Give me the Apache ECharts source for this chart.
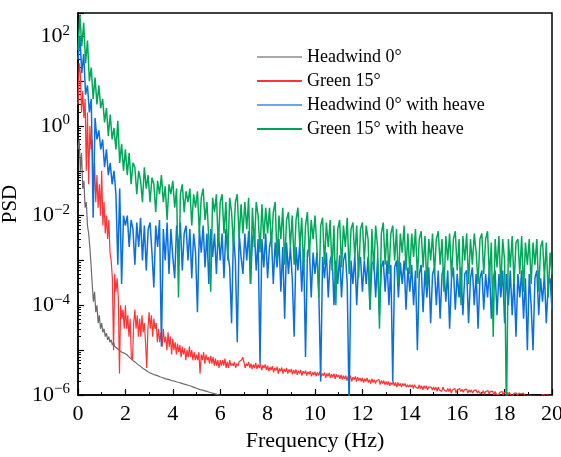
<!DOCTYPE html>
<html>
<head>
<meta charset="utf-8">
<script src="https://cdn.jsdelivr.net/npm/echarts/dist/echarts.min.js"></script>
<style>
html,body{margin:0;padding:0;background:#fff;}
#chart{width:561px;height:457px;}
</style>
</head>
<body>
<div id="chart"></div>
<script>
// Frequency resolution of the PSD estimates (Hz); each series starts at 0 Hz.
const FINE_STEP = 0.05;   // Headwind 0°, Green 15°
const HEAVE_STEP = 0.08;  // the two "with heave" cases

const seriesNames = ['Headwind 0°', 'Green 15°', 'Headwind 0° with heave', 'Green 15° with heave'];

// Headwind 0° (0 - 7 Hz, step 0.05)
const headwindPsd = [
0.3,0.5,0.1,0.25,0.04,0.06,0.015,0.02,0.006,0.004,0.002,8e-4,3e-4,1.2e-4,2e-4,7e-5,1e-4,4e-5,6e-5,3e-5,4e-5,
2.5e-5,3e-5,2e-5,2.4e-5,1.7e-5,2e-5,1.5e-5,1.7e-5,1.3e-5,1.5e-5,1.2e-5,1.3e-5,1.1e-5,1.1e-5,9.8e-6,9.8e-6,9e-6,9.2e-6,8.6e-6,8.5e-6,
8e-6,7.5e-6,7.1e-6,6.7e-6,6.3e-6,6e-6,5.7e-6,5.4e-6,5.2e-6,5e-6,4.7e-6,4.5e-6,4.3e-6,4.1e-6,3.9e-6,3.75e-6,3.6e-6,3.45e-6,3.3e-6,3.2e-6,
3.1e-6,3e-6,2.95e-6,2.9e-6,2.8e-6,2.75e-6,2.7e-6,2.6e-6,2.55e-6,2.5e-6,2.45e-6,2.4e-6,2.35e-6,2.3e-6,2.25e-6,2.2e-6,2.2e-6,2.15e-6,2.1e-6,2.1e-6,
2.05e-6,2e-6,1.97e-6,1.94e-6,1.9e-6,1.87e-6,1.84e-6,1.8e-6,1.77e-6,1.74e-6,1.71e-6,1.68e-6,1.65e-6,1.62e-6,1.59e-6,1.56e-6,1.52e-6,1.48e-6,1.44e-6,1.4e-6,
1.38e-6,1.35e-6,1.32e-6,1.3e-6,1.28e-6,1.26e-6,1.24e-6,1.22e-6,1.2e-6,1.18e-6,1.15e-6,1.13e-6,1.11e-6,1.09e-6,1.07e-6,1.05e-6,1.03e-6,1.01e-6,9.9e-7,9.7e-7,
9.5e-7,9.3e-7,9.1e-7,8.9e-7,8.7e-7,8.5e-7,8.3e-7,8.1e-7,8e-7,7.8e-7,7.6e-7,7.5e-7,7.3e-7,7.2e-7,7e-7,6.9e-7,6.7e-7,6.6e-7,6.5e-7,6.3e-7
];

// Green 15° (0 - 20 Hz, step 0.05)
const green15Psd = [
3,25,15,2,6,1.5,4,0.1,2,0.05,1,0.3,0.5,0.03,0.15,0.02,0.08,0.015,0.05,0.01,0.1,
6e-3,2e-2,4e-3,1e-2,3e-3,8e-3,1.5e-3,1e-3,4e-4,1e-5,5e-4,2e-4,4e-4,1.5e-4,3e-6,1e-4,5e-5,8e-5,3e-5,1e-4,
3e-5,6e-5,2e-5,5e-5,7e-6,6e-6,4e-5,8e-5,3e-5,6e-5,2e-5,5e-5,2e-5,6e-5,2.5e-5,4e-5,1.5e-5,4e-6,3e-5,7e-5,
3e-5,6e-5,2e-5,5e-5,3e-5,4e-5,1.5e-5,3e-5,1.5e-5,2.5e-5,1.2e-5,3e-5,1.5e-5,2e-5,1e-5,2.5e-5,1.2e-5,2e-5,8e-6,1.8e-5,
1e-5,1.5e-5,8e-6,1.4e-5,9e-6,1.3e-5,7e-6,1.2e-5,8e-6,1.1e-5,6e-6,1e-5,7e-6,1.2e-5,7e-6,1e-5,6e-6,9e-6,6e-6,8e-6,
6e-6,9e-6,3e-6,8e-6,6e-6,9e-6,5e-6,8e-6,6e-6,7e-6,5e-6,7.5e-6,5e-6,7e-6,4.5e-6,6.5e-6,4.5e-6,6e-6,4e-6,6e-6,
4.5e-6,6e-6,4.5e-6,6.5e-6,4e-6,5.5e-6,4e-6,6e-6,4.5e-6,5e-6,4.5e-6,5.5e-6,4e-6,5e-6,4.5e-6,5.5e-6,5e-6,6e-6,7e-6,5.5e-6,
4e-6,5e-6,4.5e-6,5.5e-6,4e-6,5e-6,3.8e-6,4.8e-6,4e-6,5.2e-6,3.8e-6,4.8e-6,4e-6,5e-6,3.6e-6,4.6e-6,4e-6,4.8e-6,3.6e-6,4.5e-6,
3.4e-6,4.2e-6,3.6e-6,4.4e-6,3.2e-6,4e-6,3.5e-6,4.3e-6,3e-6,3.9e-6,3.4e-6,4.1e-6,3e-6,3.8e-6,3.3e-6,4e-6,3e-6,3.7e-6,3.2e-6,3.8e-6,
2.9e-6,3.6e-6,3e-6,3.7e-6,2.8e-6,3.5e-6,3e-6,3.6e-6,2.7e-6,3.4e-6,3e-6,3.5e-6,2.7e-6,3.3e-6,2.9e-6,3.4e-6,2.6e-6,3.2e-6,2.8e-6,3.3e-6,
2.6e-6,3.2e-6,2.7e-6,3.3e-6,2.5e-6,3e-6,2.7e-6,3.2e-6,2.4e-6,3e-6,2.6e-6,3.1e-6,2.4e-6,2.9e-6,2.5e-6,3e-6,2.3e-6,2.9e-6,2.5e-6,2.8e-6,
2.3e-6,2.8e-6,2.2e-6,2.7e-6,2.3e-6,2.7e-6,2.1e-6,2.6e-6,2.2e-6,2.7e-6,2e-6,2.5e-6,2.2e-6,2.6e-6,2e-6,2.5e-6,2.1e-6,2.4e-6,2e-6,2.4e-6,
1.9e-6,2.3e-6,2e-6,2.4e-6,1.9e-6,2.2e-6,1.8e-6,2.3e-6,1.9e-6,2.2e-6,1.8e-6,2.1e-6,1.9e-6,2.2e-6,1.7e-6,2.1e-6,1.8e-6,2.1e-6,1.7e-6,2e-6,
1.7e-6,2e-6,1.6e-6,1.9e-6,1.7e-6,2e-6,1.6e-6,1.9e-6,1.5e-6,1.9e-6,1.6e-6,1.8e-6,1.5e-6,1.8e-6,1.6e-6,1.8e-6,1.5e-6,1.7e-6,1.5e-6,1.7e-6,
1.5e-6,1.7e-6,1.4e-6,1.7e-6,1.5e-6,1.6e-6,1.4e-6,1.7e-6,1.4e-6,1.6e-6,1.3e-6,1.6e-6,1.4e-6,1.6e-6,1.3e-6,1.5e-6,1.4e-6,1.5e-6,1.3e-6,1.5e-6,
1.3e-6,1.5e-6,1.2e-6,1.5e-6,1.3e-6,1.4e-6,1.2e-6,1.5e-6,1.3e-6,1.4e-6,1.2e-6,1.4e-6,1.2e-6,1.4e-6,1.1e-6,1.3e-6,1.2e-6,1.4e-6,1.1e-6,1.3e-6,
1.2e-6,1.4e-6,1.2e-6,1.35e-6,1.15e-6,1.3e-6,1.2e-6,1.35e-6,1.1e-6,1.3e-6,1.15e-6,1.3e-6,1.1e-6,1.25e-6,1.15e-6,1.3e-6,1.1e-6,1.25e-6,1.1e-6,1.2e-6,
1.1e-6,1.25e-6,1.05e-6,1.2e-6,1.1e-6,1.25e-6,1.05e-6,1.2e-6,1.1e-6,1.2e-6,1e-6,1.2e-6,1.05e-6,1.15e-6,1e-6,1.15e-6,1.05e-6,1.2e-6,1e-6,1.15e-6,
1.05e-6,1.15e-6,1e-6,1.15e-6,1e-6,1.1e-6,9.5e-7,1.1e-6,1e-6,1.1e-6,9.5e-7,1.1e-6,1e-6,1.05e-6,9.5e-7,1.1e-6,9.5e-7,1.05e-6,9.5e-7,1.05e-6,
1e-6,1.05e-6,9.5e-7,1.05e-6,9.5e-7,1.05e-6,9.3e-7,1.03e-6,9.5e-7,1.02e-6,9.2e-7,1.02e-6,9.4e-7,1e-6,9.2e-7,1e-6,9.3e-7,9.8e-7,9.2e-7,9.7e-7
];

// Headwind 0° with heave (0 - 20 Hz, step 0.08)
const headwindHeavePsd = [
30,100,15,40,5,8,2,4,0.009,1.5,0.5,0.8,0.3,
0.5,0.12,0.3,0.08,0.15,0.05,0.1,0.03,8e-4,0.04,3e-4,0.01,0.006,
0.01,0.002,0.008,0.005,8e-4,0.007,0.002,0.009,0.001,0.006,6e-4,0.005,
0.007,0.0015,2.5e-4,0.006,0.002,0.008,1.2e-5,0.005,0.001,0.007,5e-4,0.005,0.0012,
4e-4,0.006,0.0015,0.007,6e-4,0.004,0.006,0.001,0.005,4e-4,0.004,0.0015,
7e-5,0.005,0.0015,0.006,7e-4,0.004,3e-4,0.005,0.0012,0.004,5e-4,0.005,0.001,
0.004,4e-4,0.005,0.0015,7e-4,4e-5,0.004,0.001,1.5e-5,0.004,0.0012,5e-4,
0.004,0.001,0.0045,3e-4,0.003,0.005,6e-4,0.003,5e-6,0.003,7e-4,0.004,4e-4,
0.002,0.0035,3e-4,0.0025,7e-4,0.003,2e-4,0.002,5e-5,0.0025,5e-4,0.002,
4e-4,2e-5,0.002,6e-4,0.0025,2e-4,0.0018,7e-6,0.0015,0.002,1.5e-4,0.0015,5e-4,
0.0015,2e-4,2e-6,0.0012,4e-4,0.0015,1.5e-4,0.001,0.0014,1e-4,0.001,3e-4,
0.0013,1.5e-4,0.001,0.0015,3e-4,5e-7,0.001,3e-4,0.0013,1e-4,9e-4,0.0012,2e-4,
0.001,3e-4,0.0012,8e-5,8e-4,0.001,1.5e-4,0.0011,6e-5,7e-4,0.001,2e-4,
0.001,1e-4,8e-4,2e-6,7e-4,0.001,1.5e-4,9e-4,3e-4,0.001,8e-5,7e-4,2e-4,
8e-4,1e-4,6e-4,1e-5,5e-4,8e-4,7e-5,6e-4,1.5e-4,7e-4,4e-5,5e-4,
7e-4,1e-4,6e-4,5e-5,5e-4,7e-4,1.2e-4,6e-4,3e-5,4e-4,7e-4,8e-5,5e-4,
1.5e-4,7e-4,6e-5,5e-4,6e-4,4e-5,4e-4,7e-4,1e-4,5e-4,3e-5,4e-4,
6e-4,8e-5,5e-4,1.5e-4,7e-4,5e-5,4e-4,6e-4,6e-5,5e-4,1.5e-4,6e-4,4e-5,
5e-4,1e-4,6e-4,6e-5,4e-4,2e-5,5e-4,1.5e-4,6e-4,5e-5,4e-4,1e-5,
5e-4,1e-4,1e-5,4e-4,6e-4,6e-5,4e-4,1.2e-4,5e-4,4e-5,3e-4,4e-4,8e-5
];

// Green 15° with heave (0 - 20 Hz, step 0.08)
const green15HeavePsd = [
50,300,60,200,25,80,10,20,4,12,3,8,2.5,
4,1.2,2.5,0.6,1.8,0.5,0.9,0.3,1.3,0.15,0.4,0.1,0.3,
0.08,0.25,0.05,0.15,0.12,0.03,0.1,0.06,0.02,0.12,0.04,0.08,
0.02,0.07,0.05,0.012,0.06,0.03,0.08,0.02,0.045,0.008,0.05,0.03,0.06,
0.015,0.04,1.5e-4,0.03,0.05,0.012,0.035,0.02,0.04,0.006,0.03,0.015,
0.035,0.004,0.025,0.04,0.008,0.02,0.003,2e-4,0.025,0.012,0.03,0.002,0.02,
0.03,0.004,0.02,0.001,0.025,0.012,0.002,0.02,0.03,0.003,0.018,0.004,
0.02,0.005,0.025,3e-4,0.015,0.002,0.02,0.01,0.0015,0.018,0.003,0.015,0.004,
0.015,0.002,0.012,0.02,0.001,0.01,0.003,0.015,8e-4,0.008,0.012,0.002,
0.01,8e-4,0.008,0.015,0.002,0.009,6e-4,0.006,0.012,0.0012,0.008,0.003,0.01,
0.002,1.5e-4,0.006,0.009,8e-4,0.007,0.002,0.008,6e-4,0.006,1e-4,0.005,
0.008,7e-4,0.006,0.002,0.009,5e-4,0.005,0.007,0.0012,0.006,4e-4,0.005,0.007,
0.001,0.006,0.003,8e-5,0.005,6e-4,0.006,0.002,3e-5,0.004,0.007,8e-4,
0.005,5e-4,0.004,0.006,0.001,0.005,3e-4,0.004,0.0015,0.006,6e-4,0.004,5e-4,
0.004,0.0012,0.005,4e-4,0.003,0.0045,7e-4,0.0035,2.5e-4,0.003,0.001,0.004,
5e-4,0.003,0.0045,8e-4,0.003,2e-4,0.0035,0.001,0.004,4e-4,0.003,0.0045,6e-4,
0.003,1e-4,0.0035,0.001,0.004,3e-4,0.003,8e-4,0.004,0.0015,3e-4,0.003,
0.004,5e-4,0.003,0.0045,4e-4,0.0025,2e-5,0.003,7e-4,0.0035,2.5e-4,0.003,0.001,
3e-7,0.003,7e-4,0.0035,3e-4,0.0025,0.003,5e-4,0.0035,2e-4,0.0025,8e-4,
0.003,3e-4,0.0025,8e-4,0.003,2e-4,0.002,0.0028,4e-4,0.0025,1.5e-4,0.0015,5e-4
];

const xMin = 0, xMax = 20, xInterval = 2;
const yMin = 1e-6, yMax = 330;

const FONT = "'Liberation Serif','Times New Roman',serif";
const colors = ['#6b6b6b', '#ff3333', '#0a6fe0', '#00a85a'];
const legendColors = ['#a8a8a8', '#ff3333', '#6aa6ee', '#00a060'];
const widths = [1.2, 1.2, 1.5, 1.5];
const allPsd = [headwindPsd, green15Psd, headwindHeavePsd, green15HeavePsd];
const steps = [FINE_STEP, FINE_STEP, HEAVE_STEP, HEAVE_STEP];

function toPairs(arr, step) {
  return arr.map((v, i) => [+(i * step).toFixed(2), v]);
}

const chart = echarts.init(document.getElementById('chart'), null, {renderer: 'canvas'});
chart.setOption({
  backgroundColor: '#fff',
  animation: false,
  textStyle: {fontFamily: FONT, color: '#000'},
  grid: {left: 78, right: 9, top: 13, bottom: 62, containLabel: false, outerBoundsMode: 'none',
         show: true, borderColor: '#000', borderWidth: 1.5, backgroundColor: 'transparent'},
  legend: {
    orient: 'vertical', left: 252, top: 43,
    itemWidth: 45, itemHeight: 2, itemGap: 6, icon: 'rect',
    textStyle: {fontFamily: FONT, fontSize: 18, color: '#000', lineHeight: 18},
    data: seriesNames.map((n, i) => ({name: n, itemStyle: {color: legendColors[i]}}))
  },
  xAxis: {
    type: 'value', min: xMin, max: xMax, interval: xInterval,
    axisLine: {show: true, lineStyle: {color: '#000', width: 1.5}},
    axisTick: {show: true, inside: true, length: 6, lineStyle: {color: '#000', width: 1.2}},
    minorTick: {show: true, splitNumber: 2, length: 3, lineStyle: {color: '#000', width: 1}},
    splitLine: {show: false},
    axisLabel: {fontFamily: FONT, fontSize: 22, color: '#000', margin: 8},
    name: 'Frequency (Hz)', nameLocation: 'middle', nameGap: 28,
    nameTextStyle: {fontFamily: FONT, fontSize: 22, color: '#000'}
  },
  yAxis: {
    type: 'log', logBase: 10, min: yMin, max: yMax, splitNumber: 8,
    axisLine: {show: true, lineStyle: {color: '#000', width: 1.5}},
    axisTick: {show: true, inside: true, length: 6, lineStyle: {color: '#000', width: 1.2}},
    minorTick: {show: true, splitNumber: 9, length: 3, lineStyle: {color: '#000', width: 1}},
    splitLine: {show: false},
    axisLabel: {
      margin: 8,
      formatter: function (v) {
        const l = Math.log10(v);
        const e = Math.round(l);
        if (Math.abs(l - e) > 0.01 || e % 2 !== 0) return '';
        return '{b|10}{s|' + (e < 0 ? '\u2212' + (-e) : e) + '}';
      },
      rich: {
        b: {fontFamily: FONT, fontSize: 22, color: '#000', lineHeight: 26},
        s: {fontFamily: FONT, fontSize: 15, color: '#000', verticalAlign: 'top', lineHeight: 15}
      }
    },
    name: 'PSD', nameLocation: 'middle', nameGap: 50,
    nameTextStyle: {fontFamily: FONT, fontSize: 21, color: '#000'}
  },
  series: allPsd.map((arr, i) => ({
    name: seriesNames[i], type: 'line', data: toPairs(arr, steps[i]),
    showSymbol: false, symbol: 'none', clip: true,
    lineStyle: {color: colors[i], width: widths[i]},
    itemStyle: {color: colors[i]}
  }))
});
</script>
</body>
</html>
